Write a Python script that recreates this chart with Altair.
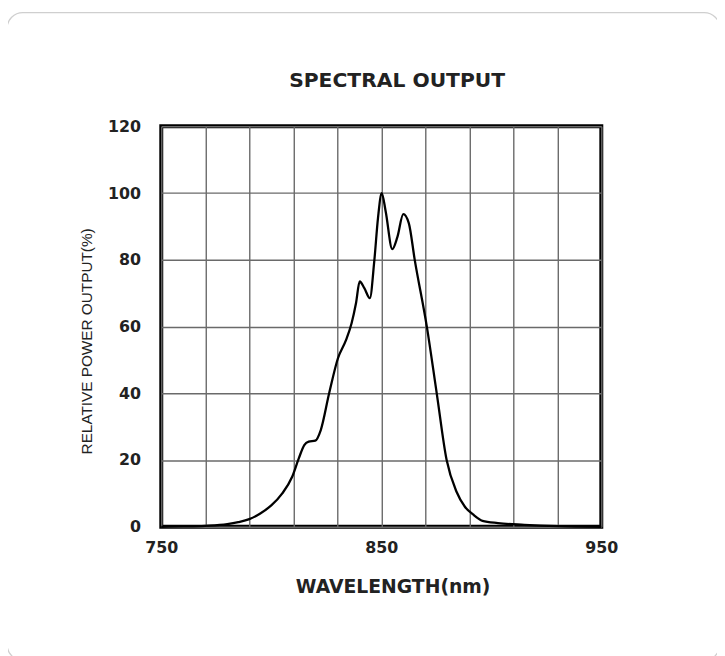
import altair as alt
import pandas as pd

# Spectral output data
wavelength = [750, 760, 770, 780, 785, 790, 795, 800, 805, 809.5, 812.5, 815, 817, 820,
              822.5, 826.3, 830.3, 834, 836.5, 838.5, 840.2, 842.3, 844.8, 846.8, 848.5,
              850.2, 852, 855, 857.3, 860, 862.5, 865.2, 870.7, 875.2, 879.7, 884.2, 888,
              891.7, 896, 903, 915, 930, 950]
power = [0, 0.1, 0.3, 0.8, 1.4, 2.3, 4.0, 6.4, 10.0, 15, 20.5, 24.5, 25.5, 25.8,
         29, 40, 50.5, 56, 61, 67, 73.5, 71.5, 68.5, 79.5, 92.5,
         100, 94.5, 83.2, 86.8, 93.7, 91, 80, 60, 40, 20, 10.5, 6,
         3.7, 1.8, 1.1, 0.6, 0.2, 0]

x_grid = [750, 770, 790, 810, 830, 850, 870, 890, 910, 930, 950]
y_ticks = [0, 20, 40, 60, 80, 100, 120]

df = pd.DataFrame({"wl": wavelength, "p": power})

W, H = 445, 405

card = alt.Chart(pd.DataFrame({"k": [0]})).mark_rect(
    fill="transparent", stroke="#cfcfcf", strokeWidth=1.3, cornerRadius=16
).encode(
    x=alt.value(-156), x2=alt.value(565), y=alt.value(-115), y2=alt.value(540)
)

line = alt.Chart(df).mark_line(
    color="black", strokeWidth=2.3, interpolate="monotone"
).encode(
    x=alt.X("wl:Q", scale=alt.Scale(domain=[750, 950], nice=False, zero=False),
            axis=alt.Axis(values=x_grid, title="WAVELENGTH(nm)",
                          labelExpr="datum.value % 100 == 50 ? datum.label : ''",
                          labelFlush=False,
                          titleX=234, titleY=66, titleAlign="center",
                          titleBaseline="alphabetic")),
    y=alt.Y("p:Q", scale=alt.Scale(domain=[0, 120], nice=False),
            axis=alt.Axis(values=y_ticks, title="RELATIVE POWER OUTPUT(%)",
                          titleX=-76, titleY=217, titleAngle=-90,
                          titleAlign="center", titleBaseline="middle",
                          titleFont="Liberation Sans",
                          titleFontSize=15.5, titleFontWeight="normal",
                          labelPadding=21)),
)

chart = alt.layer(card, line).properties(
    width=W, height=H,
    autosize=alt.AutoSizeParams(type="none"),
    padding={"left": 155, "top": 116, "right": 117, "bottom": 127},
    title=alt.TitleParams("SPECTRAL OUTPUT", font="DejaVu Sans", fontSize=20.5,
                          fontWeight="bold", color="#222", offset=35, dx=16,
                          dy=131, baseline="alphabetic", frame="group"),
).configure_view(
    stroke="black", strokeWidth=4
).configure_axis(
    domain=False, ticks=False, grid=True, gridColor="#6a6a6a", gridWidth=1.4,
    labelFont="DejaVu Sans", labelFontSize=16, labelFontWeight="bold",
    labelColor="#222", labelPadding=13,
    titleFont="DejaVu Sans", titleFontSize=19, titleFontWeight="bold",
    titleColor="#222",
)

chart.save("out.html", embed_options={"renderer": "svg", "actions": False})
